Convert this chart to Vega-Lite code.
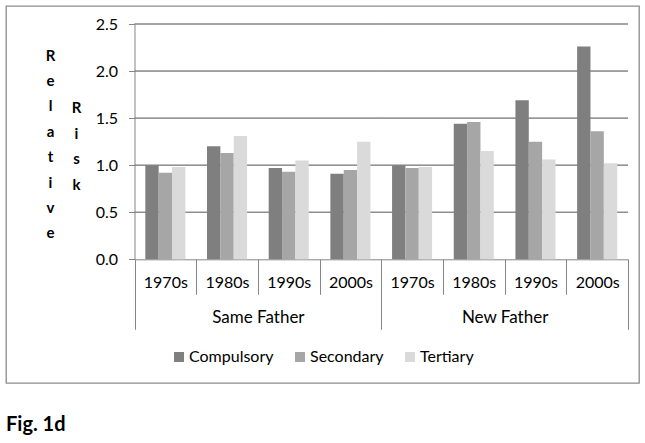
{
  "$schema": "https://vega.github.io/schema/vega-lite/v6.json",
  "width": 633,
  "height": 377,
  "autosize": "none",
  "padding": {"left": 6, "top": 6, "right": 6, "bottom": 60},
  "background": "white",
  "config": {
    "view": {"stroke": "#8c8c8c", "strokeWidth": 1.3},
    "font": "Lato"
  },
  "title": {
    "text": "Fig. 1d",
    "orient": "bottom",
    "anchor": "start",
    "frame": "group",
    "offset": 32,
    "fontSize": 20,
    "fontWeight": "bold",
    "font": "Lato",
    "color": "black"
  },
  "datasets": {
    "grid": [
      {"father": "Same Father", "rr": 0.5}, {"father": "Same Father", "rr": 1.0}, {"father": "Same Father", "rr": 1.5}, {"father": "Same Father", "rr": 2.0}, {"father": "Same Father", "rr": 2.5},
      {"father": "New Father", "rr": 0.5}, {"father": "New Father", "rr": 1.0}, {"father": "New Father", "rr": 1.5}, {"father": "New Father", "rr": 2.0}, {"father": "New Father", "rr": 2.5}
    ],
    "bars": [
      {"key": "Same Father 1970s", "edu": "Compulsory", "rr": 1.00},
      {"key": "Same Father 1970s", "edu": "Secondary", "rr": 0.92},
      {"key": "Same Father 1970s", "edu": "Tertiary", "rr": 0.98},
      {"key": "Same Father 1980s", "edu": "Compulsory", "rr": 1.20},
      {"key": "Same Father 1980s", "edu": "Secondary", "rr": 1.13},
      {"key": "Same Father 1980s", "edu": "Tertiary", "rr": 1.31},
      {"key": "Same Father 1990s", "edu": "Compulsory", "rr": 0.97},
      {"key": "Same Father 1990s", "edu": "Secondary", "rr": 0.93},
      {"key": "Same Father 1990s", "edu": "Tertiary", "rr": 1.05},
      {"key": "Same Father 2000s", "edu": "Compulsory", "rr": 0.91},
      {"key": "Same Father 2000s", "edu": "Secondary", "rr": 0.95},
      {"key": "Same Father 2000s", "edu": "Tertiary", "rr": 1.25},
      {"key": "New Father 1970s", "edu": "Compulsory", "rr": 1.00},
      {"key": "New Father 1970s", "edu": "Secondary", "rr": 0.97},
      {"key": "New Father 1970s", "edu": "Tertiary", "rr": 0.98},
      {"key": "New Father 1980s", "edu": "Compulsory", "rr": 1.44},
      {"key": "New Father 1980s", "edu": "Secondary", "rr": 1.46},
      {"key": "New Father 1980s", "edu": "Tertiary", "rr": 1.15},
      {"key": "New Father 1990s", "edu": "Compulsory", "rr": 1.69},
      {"key": "New Father 1990s", "edu": "Secondary", "rr": 1.25},
      {"key": "New Father 1990s", "edu": "Tertiary", "rr": 1.06},
      {"key": "New Father 2000s", "edu": "Compulsory", "rr": 2.26},
      {"key": "New Father 2000s", "edu": "Secondary", "rr": 1.36},
      {"key": "New Father 2000s", "edu": "Tertiary", "rr": 1.02}
    ]
  },
  "layer": [
    {
      "data": {"name": "grid"},
      "mark": {"type": "bar", "fillOpacity": 0, "stroke": "#868686", "strokeWidth": 1},
      "encoding": {
        "x": {
          "field": "father", "type": "nominal",
          "scale": {"domain": ["Same Father", "New Father"], "range": [128.5, 622], "paddingInner": 0, "paddingOuter": 0},
          "axis": {
            "orient": "bottom", "offset": -123.7, "domain": false,
            "ticks": true, "tickBand": "extent", "tickSize": 70, "tickColor": "#868686",
            "labelPadding": -20, "labelFontSize": 17, "labelColor": "black", "labelAngle": 0,
            "labelFont": "Lato", "title": null
          }
        },
        "y": {
          "field": "rr", "type": "quantitative",
          "scale": {"domain": [0, 2.5], "range": [253.3, 18], "nice": false},
          "axis": {
            "orient": "left", "offset": -128.5,
            "values": [0, 0.5, 1, 1.5, 2, 2.5], "format": ".1f",
            "grid": false, "domainColor": "#868686", "tickColor": "#868686",
            "tickSize": 6, "labelPadding": 11, "labelFontSize": 16, "labelColor": "black",
            "labelFont": "Lato",
            "title": ["R", "e", "l", "a", "t", "i", "v", "e"],
            "titleX": -84.5, "titleY": 54, "titleAngle": 0,
            "titleAlign": "center", "titleBaseline": "alphabetic",
            "titleLineHeight": 25.4, "titleFontSize": 15, "titleFontWeight": "bold",
            "titleColor": "black", "titleFont": "Lato"
          }
        },
        "y2": {"field": "rr"}
      }
    },
    {
      "data": {"name": "bars"},
      "mark": {"type": "bar"},
      "encoding": {
        "x": {
          "field": "key", "type": "nominal",
          "scale": {
            "domain": ["Same Father 1970s", "Same Father 1980s", "Same Father 1990s", "Same Father 2000s", "New Father 1970s", "New Father 1980s", "New Father 1990s", "New Father 2000s"],
            "range": [128.5, 622], "paddingInner": 0, "paddingOuter": 0
          },
          "axis": {
            "orient": "bottom", "offset": -123.7,
            "domain": true, "domainColor": "#868686", "domainWidth": 1,
            "tickBand": "extent", "tickSize": 35, "tickColor": "#868686",
            "labelExpr": "substring(datum.label, length(datum.label) - 5)",
            "labelPadding": -20, "labelFontSize": 16, "labelColor": "black", "labelAngle": 0,
            "labelOverlap": false, "labelFont": "Lato",
            "title": ["R", "i", "s", "k"],
            "titleX": 70, "titleY": -146.3, "titleAngle": 0,
            "titleAlign": "center", "titleBaseline": "alphabetic",
            "titleLineHeight": 25.4, "titleFontSize": 15, "titleFontWeight": "bold",
            "titleColor": "black", "titleFont": "Lato"
          }
        },
        "xOffset": {
          "field": "edu", "type": "nominal",
          "scale": {"domain": ["Compulsory", "Secondary", "Tertiary"], "paddingInner": 0, "paddingOuter": 0.81}
        },
        "y": {
          "field": "rr", "type": "quantitative",
          "scale": {"domain": [0, 2.5], "range": [253.3, 18], "nice": false},
          "axis": {
            "orient": "left", "offset": -128.5,
            "values": [0, 0.5, 1, 1.5, 2, 2.5], "format": ".1f",
            "grid": false, "domainColor": "#868686", "tickColor": "#868686",
            "tickSize": 6, "labelPadding": 11, "labelFontSize": 16, "labelColor": "black",
            "labelFont": "Lato",
            "title": ["R", "e", "l", "a", "t", "i", "v", "e"],
            "titleX": -84.5, "titleY": 54, "titleAngle": 0,
            "titleAlign": "center", "titleBaseline": "alphabetic",
            "titleLineHeight": 25.4, "titleFontSize": 15, "titleFontWeight": "bold",
            "titleColor": "black", "titleFont": "Lato"
          }
        },
        "color": {
          "field": "edu", "type": "nominal",
          "scale": {"domain": ["Compulsory", "Secondary", "Tertiary"], "range": ["#7f7f7f", "#a6a6a6", "#dadada"]},
          "legend": {
            "orient": "none", "legendX": 165, "legendY": 343, "direction": "horizontal",
            "title": null, "symbolType": "square", "symbolSize": 100, "symbolStrokeWidth": 0,
            "labelFontSize": 16, "labelColor": "black", "labelFont": "Lato",
            "labelOffset": 2, "columnPadding": 18, "padding": 0
          }
        }
      }
    }
  ],
  "resolve": {"scale": {"x": "independent"}, "axis": {"x": "independent"}}
}
